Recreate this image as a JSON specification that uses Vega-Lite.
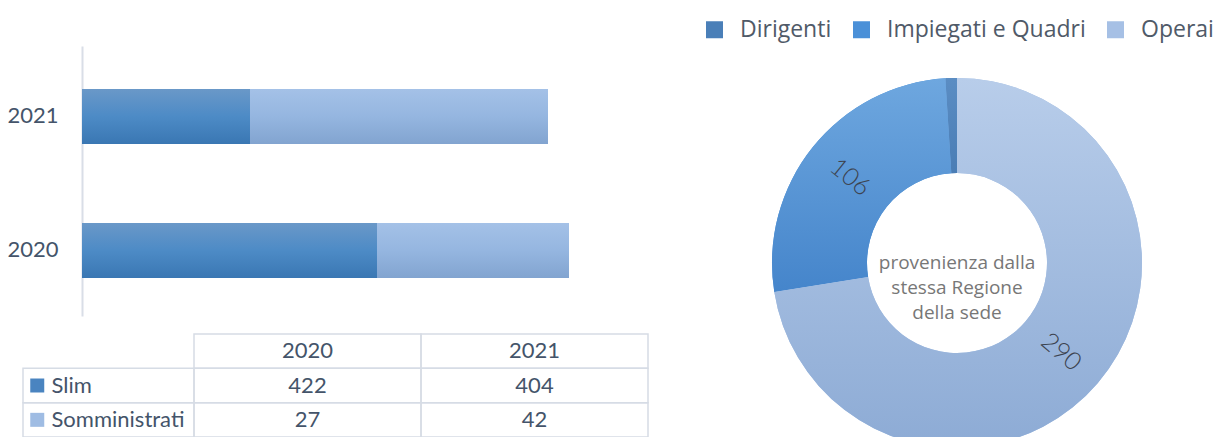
{
  "$schema": "https://vega.github.io/schema/vega-lite/v6.json",
  "background": "white",
  "padding": {"left": 6, "top": 18, "right": 0, "bottom": 0},
  "config": {"view": {"stroke": null}, "font": "Lato"},
  "datasets": {
    "tabella": [
      {"riga": "Slim", "anno": "2020", "valore": 422},
      {"riga": "Slim", "anno": "2021", "valore": 404},
      {"riga": "Somministrati", "anno": "2020", "valore": 27},
      {"riga": "Somministrati", "anno": "2021", "valore": 42}
    ],
    "donut": [
      {"categoria": "Dirigenti", "valore": 4},
      {"categoria": "Impiegati e Quadri", "valore": 106},
      {"categoria": "Operai", "valore": 290}
    ]
  },
  "spacing": 54,
  "resolve": {"scale": {"color": "independent"}, "legend": {"color": "independent"}},
  "hconcat": [
    {
      "spacing": 17,
      "vconcat": [
        {
          "width": 625,
          "height": 270,
          "data": {"values": [
            {"anno": "2020", "serie": "Slim", "lunghezza": 295},
            {"anno": "2020", "serie": "Somministrati", "lunghezza": 192},
            {"anno": "2021", "serie": "Slim", "lunghezza": 168},
            {"anno": "2021", "serie": "Somministrati", "lunghezza": 298}
          ]},
          "mark": {"type": "bar"},
          "encoding": {
            "y": {
              "field": "anno", "type": "nominal", "sort": ["2021", "2020"],
              "scale": {"paddingInner": 0.59, "paddingOuter": 0.302, "align": 0.53},
              "axis": {"title": null, "offset": -59, "ticks": false, "domainColor": "#d9dee7", "domainWidth": 2,
                       "labelFont": "Lato", "labelFontSize": 22, "labelColor": "#44546a", "labelPadding": 24}
            },
            "x": {"field": "lunghezza", "type": "quantitative", "stack": "zero",
                  "scale": {"domain": [-59, 566], "nice": false, "zero": false}, "axis": null},
            "detail": {"field": "serie"},
            "fill": {
              "condition": {"test": "datum.serie === 'Slim'",
                "value": {"gradient": "linear", "x1": 0, "y1": 0, "x2": 0, "y2": 1,
                  "stops": [{"offset": 0, "color": "#6a98c8"}, {"offset": 0.5, "color": "#4d8bc6"}, {"offset": 1, "color": "#3a77b3"}]}},
              "value": {"gradient": "linear", "x1": 0, "y1": 0, "x2": 0, "y2": 1,
                "stops": [{"offset": 0, "color": "#a4c1e7"}, {"offset": 0.5, "color": "#95b6e0"}, {"offset": 1, "color": "#82a4d0"}]}
            }
          }
        },
        {
          "spacing": 0,
          "bounds": "flush",
          "hconcat": [
            {
              "width": 171,
              "height": 103,
              "data": {"name": "tabella"},
              "transform": [{"aggregate": [{"op": "count", "as": "n"}], "groupby": ["riga"]}],
              "encoding": {
                "y": {"field": "riga", "type": "nominal",
                      "scale": {"domain": ["Anni", "Slim", "Somministrati"], "paddingInner": 0, "paddingOuter": 0}, "axis": null}
              },
              "layer": [
                {"mark": {"type": "rect", "fill": "transparent", "stroke": "#d6dce5", "strokeWidth": 1.5}},
                {
                  "mark": {"type": "point", "shape": "square", "filled": true, "size": 196, "opacity": 1},
                  "encoding": {
                    "x": {"datum": "simbolo", "type": "nominal",
                          "scale": {"type": "band", "domain": ["simbolo", "nome", "c3", "c4", "c5", "c6"], "paddingInner": 0, "paddingOuter": 0}, "axis": null},
                    "fill": {"condition": {"test": "datum.riga === 'Slim'", "value": "#4a84c0"}, "value": "#9fbce3"}
                  }
                },
                {
                  "mark": {"type": "text", "align": "left", "baseline": "middle", "font": "Lato", "fontSize": 22, "color": "#44546a"},
                  "encoding": {
                    "x": {"datum": "nome", "type": "nominal", "bandPosition": 0,
                          "scale": {"type": "band", "domain": ["simbolo", "nome", "c3", "c4", "c5", "c6"], "paddingInner": 0, "paddingOuter": 0}, "axis": null},
                    "text": {"field": "riga"}
                  }
                }
              ]
            },
            {
              "width": 454,
              "height": 103,
              "data": {"name": "tabella"},
              "encoding": {
                "x": {"field": "anno", "type": "nominal",
                      "scale": {"domain": ["2020", "2021"], "paddingInner": 0, "paddingOuter": 0}, "axis": null}
              },
              "layer": [
                {
                  "transform": [{"aggregate": [{"op": "count", "as": "n"}], "groupby": ["anno"]}],
                  "encoding": {
                    "y": {"datum": "Anni", "type": "nominal",
                          "scale": {"domain": ["Anni", "Slim", "Somministrati"], "paddingInner": 0, "paddingOuter": 0}, "axis": null}
                  },
                  "layer": [
                    {"mark": {"type": "rect", "fill": "transparent", "stroke": "#d6dce5", "strokeWidth": 1.5}},
                    {"mark": {"type": "text", "align": "center", "baseline": "middle", "font": "Lato", "fontSize": 22, "color": "#44546a"},
                     "encoding": {"text": {"field": "anno"}}}
                  ]
                },
                {
                  "encoding": {
                    "y": {"field": "riga", "type": "nominal",
                          "scale": {"domain": ["Anni", "Slim", "Somministrati"], "paddingInner": 0, "paddingOuter": 0}, "axis": null}
                  },
                  "layer": [
                    {"mark": {"type": "rect", "fill": "transparent", "stroke": "#d6dce5", "strokeWidth": 1.5}},
                    {"mark": {"type": "text", "align": "center", "baseline": "middle", "font": "Lato", "fontSize": 22, "color": "#44546a"},
                     "encoding": {"text": {"field": "valore", "type": "quantitative"}}}
                  ]
                }
              ]
            }
          ]
        }
      ]
    },
    {
      "width": 508,
      "height": 434,
      "data": {"name": "donut"},
      "encoding": {
        "theta": {"field": "valore", "type": "quantitative", "stack": true},
        "order": {"field": "categoria", "sort": "descending"}
      },
      "layer": [
        {
          "mark": {"type": "arc", "outerRadius": 185, "innerRadius": 90},
          "encoding": {
            "color": {
              "field": "categoria", "type": "nominal",
              "scale": {"domain": ["Dirigenti", "Impiegati e Quadri", "Operai"], "range": ["#4a7fb8", "#4a90d8", "#a6c0e5"]},
              "legend": {"orient": "top", "offset": 4, "direction": "horizontal", "title": null,
                         "symbolType": "square", "symbolSize": 289, "symbolStrokeWidth": 0,
                         "labelFont": "Open Sans", "labelFontSize": 23, "labelColor": "#505a68", "labelLimit": 0,
                         "labelOffset": 14, "columnPadding": 18, "padding": 0}
            }
          }
        },
        {
          "mark": {"type": "arc", "outerRadius": 185, "innerRadius": 90},
          "encoding": {
            "fill": {
              "condition": [
                {"test": "datum.categoria === 'Operai'",
                 "value": {"gradient": "linear", "x1": 0, "y1": 0, "x2": 0, "y2": 1,
                           "stops": [{"offset": 0, "color": "#b8cdea"}, {"offset": 1, "color": "#8dabd5"}]}},
                {"test": "datum.categoria === 'Dirigenti'",
                 "value": {"gradient": "linear", "x1": 0, "y1": 0, "x2": 0, "y2": 1,
                           "stops": [{"offset": 0, "color": "#5b8dc3"}, {"offset": 1, "color": "#4a7db5"}]}}
              ],
              "value": {"gradient": "linear", "x1": 0, "y1": 0, "x2": 0, "y2": 1,
                        "stops": [{"offset": 0, "color": "#6ea7df"}, {"offset": 1, "color": "#4585cb"}]}
            }
          }
        },
        {
          "mark": {"type": "text", "radius": 137, "font": "Lato", "fontSize": 25, "fontWeight": 300,
                   "color": "#3d4450", "align": "center", "baseline": "middle"},
          "encoding": {
            "text": {"condition": {"test": "datum.categoria === 'Dirigenti'", "value": ""}, "field": "valore", "type": "quantitative"},
            "angle": {"condition": {"test": "datum.categoria === 'Operai'", "value": 40.5}, "value": 39}
          }
        },
        {
          "data": {"values": [{"testo": "provenienza dalla\nstessa Regione\ndella sede"}]},
          "mark": {"type": "text", "lineBreak": "\n", "font": "Open Sans", "fontSize": 19, "color": "#777777",
                   "lineHeight": 25, "align": "center", "baseline": "middle"},
          "encoding": {"text": {"field": "testo"}, "theta": null, "order": null}
        }
      ]
    }
  ]
}
